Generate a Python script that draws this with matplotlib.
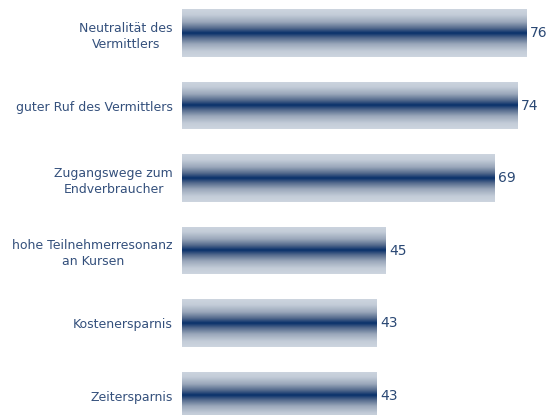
import numpy as np
import matplotlib
matplotlib.use('Agg')
import matplotlib.pyplot as plt
from matplotlib.colors import LinearSegmentedColormap

categories = [
    'Neutralität des\nVermittlers',
    'guter Ruf des Vermittlers',
    'Zugangswege zum\nEndverbraucher',
    'hohe Teilnehmerresonanz\nan Kursen',
    'Kostenersparnis',
    'Zeitersparnis',
]
values = [76, 74, 69, 45, 43, 43]

LABEL_COLOR = '#34507c'
VALUE_COLOR = '#2a4874'

# light edge -> dark navy center -> light edge
cmap = LinearSegmentedColormap.from_list(
    'bar_grad',
    [(0.0, '#cdd5df'), (0.12, '#c3ccd8'), (0.27, '#9aa7ba'), (0.4, '#53698c'),
     (0.5, '#08306a'), (0.6, '#53698c'), (0.73, '#9aa7ba'), (0.88, '#c3ccd8'),
     (1.0, '#cdd5df')])
grad = np.linspace(0, 1, 256).reshape(-1, 1)

fig = plt.figure(figsize=(5.49, 4.15), dpi=100)
ax = fig.add_axes([182 / 549, -0.0404, (549 - 182) / 549, 1.048])

y = np.arange(len(values))
bars = ax.barh(y, values, height=0.66, color='none', edgecolor='none')

for bar, val in zip(bars, values):
    x0, y0 = bar.get_x(), bar.get_y()
    w, h = bar.get_width(), bar.get_height()
    im = ax.imshow(grad, cmap=cmap, aspect='auto',
                   extent=(x0, x0 + w, y0 + h, y0), interpolation='bilinear')
    im.set_clip_path(bar)
    ax.text(x0 + w + 0.8, y0 + h / 2, f'{val}', va='center', ha='left',
            fontsize=10, color=VALUE_COLOR)

ax.set_xlim(0, 81)
ax.set_ylim(len(values) - 0.5, -0.5)
ax.set_yticks(y)
ax.set_yticklabels(categories, fontsize=9, color=LABEL_COLOR)
for lbl in ax.get_yticklabels():
    lbl.set_multialignment('center')
    lbl.set_linespacing(1.3)
ax.tick_params(axis='y', length=0, pad=6.5)
ax.set_xticks([])
for s in ax.spines.values():
    s.set_visible(False)

fig.savefig('out.png', dpi=100)
